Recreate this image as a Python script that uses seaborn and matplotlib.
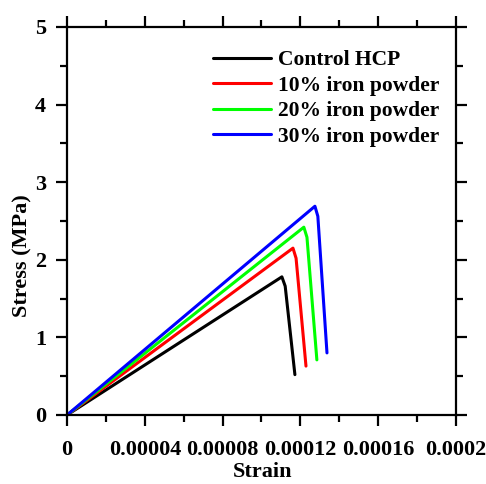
import matplotlib
matplotlib.use("Agg")
import matplotlib.pyplot as plt
import seaborn as sns
import pandas as pd
from matplotlib.ticker import MultipleLocator, FixedLocator, FixedFormatter

# stress-strain points
control_strain = [0, 0.0001105, 0.0001122, 0.0001172]
control_stress = [0, 1.78, 1.66, 0.52]
fe10_strain = [0, 0.0001162, 0.0001178, 0.0001229]
fe10_stress = [0, 2.15, 2.02, 0.63]
fe20_strain = [0, 0.0001218, 0.0001234, 0.0001285]
fe20_stress = [0, 2.42, 2.29, 0.71]
fe30_strain = [0, 0.0001275, 0.0001290, 0.0001337]
fe30_stress = [0, 2.69, 2.56, 0.80]

labels = ["Control HCP", "10% iron powder", "20% iron powder", "30% iron powder"]
colors = ["#000000", "#ff0000", "#00ff00", "#0000ff"]

x_ticks = [0, 0.00004, 0.00008, 0.00012, 0.00016, 0.0002]
x_ticklabels = ["0", "0.00004", "0.00008", "0.00012", "0.00016", "0.0002"]

frames = []
for name, xs, ys in zip(labels,
                        [control_strain, fe10_strain, fe20_strain, fe30_strain],
                        [control_stress, fe10_stress, fe20_stress, fe30_stress]):
    frames.append(pd.DataFrame({"Strain": xs, "Stress": ys, "Sample": name}))
df = pd.concat(frames, ignore_index=True)

sns.set_style("white")
plt.rcParams["font.family"] = ["Liberation Serif", "DejaVu Serif"]
plt.rcParams["font.weight"] = "bold"
plt.rcParams["text.color"] = "black"
plt.rcParams["axes.labelcolor"] = "black"
plt.rcParams["xtick.color"] = "black"
plt.rcParams["ytick.color"] = "black"

fig = plt.figure(figsize=(4.86, 4.84), dpi=100)
ax = fig.add_axes([0.138, 0.1426, 0.800, 0.8017])

sns.lineplot(data=df, x="Strain", y="Stress", hue="Sample", hue_order=labels,
             palette=colors, sort=False, estimator=None, units="Sample",
             linewidth=2.2, ax=ax)

ax.set_xlim(0, 0.0002)
ax.set_ylim(0, 5)
ax.xaxis.set_major_locator(FixedLocator(x_ticks))
ax.xaxis.set_major_formatter(FixedFormatter(x_ticklabels))
ax.xaxis.set_minor_locator(MultipleLocator(0.00002))
ax.yaxis.set_major_locator(MultipleLocator(1))
ax.yaxis.set_minor_locator(MultipleLocator(0.5))

for s in ax.spines.values():
    s.set_linewidth(1.6)
    s.set_color("black")

ax.tick_params(which="both", direction="out", top=True, right=True,
               bottom=True, left=True, width=1.6, colors="black",
               labelsize=16)
ax.tick_params(which="major", length=8)
ax.tick_params(which="minor", length=5)
ax.tick_params(axis="x", which="major", pad=10)
ax.tick_params(axis="y", which="major", pad=7)
for lab in ax.get_xticklabels() + ax.get_yticklabels():
    lab.set_fontweight("bold")

ax.set_xlabel("Strain", fontsize=16, fontweight="bold", color="black")
ax.set_ylabel("Stress (MPa)", fontsize=16, fontweight="bold", color="black")
ax.xaxis.set_label_coords(0.503, -0.12)
ax.yaxis.set_label_coords(-0.088, 0.41)

leg = ax.legend(loc="upper right", bbox_to_anchor=(1.008, 0.99), frameon=False,
                handlelength=2.7, handletextpad=0.35, labelspacing=0.25,
                borderaxespad=0.5, prop={"weight": "bold", "size": 15.5})
for line in leg.get_lines():
    line.set_linewidth(2.2)
for t in leg.get_texts():
    t.set_color("black")

fig.savefig("out.png", dpi=100)
